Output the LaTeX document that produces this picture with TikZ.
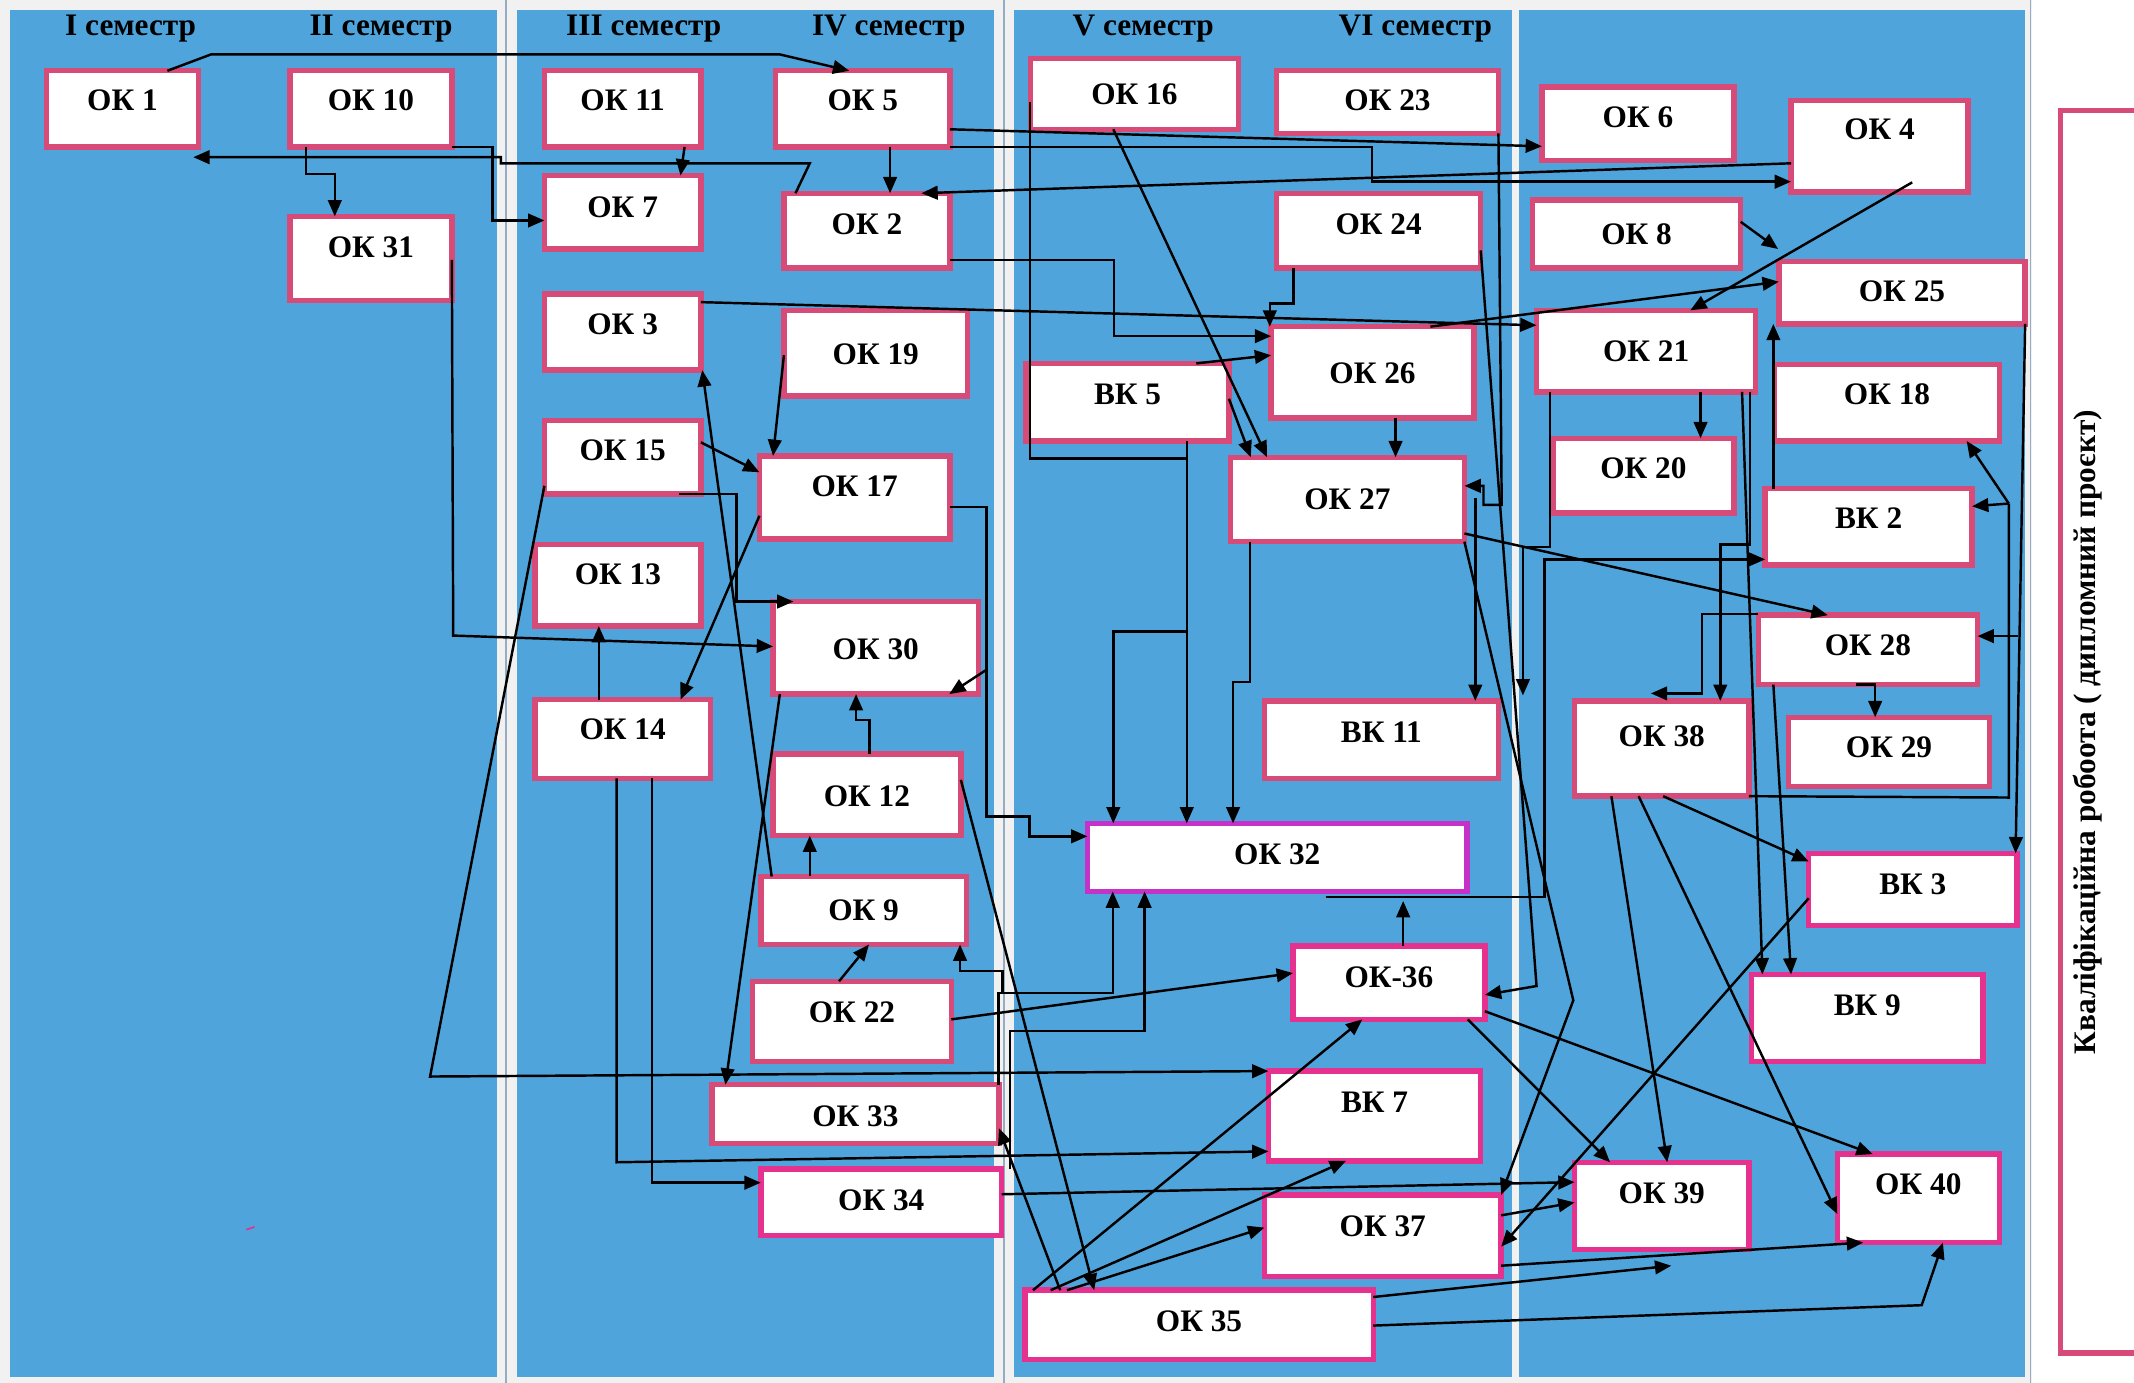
\documentclass[tikz,border=0pt]{standalone}
\usepackage{fontspec}
\setmainfont{Liberation Serif}
\usetikzlibrary{arrows.meta,calc}
\definecolor{pblue}{RGB}{79,165,219}
\definecolor{bggray}{RGB}{241,241,241}
\definecolor{sepline}{RGB}{150,172,196}
\definecolor{pinka}{RGB}{214,75,120}
\definecolor{pinkb}{RGB}{228,50,142}
\definecolor{purp}{RGB}{196,50,200}
\tikzset{
  boxa/.style={rectangle, draw=pinka, line width=4pt, fill=white, inner sep=0pt, outer sep=0pt},
  boxb/.style={boxa, draw=pinkb},
  boxc/.style={boxa, draw=purp},
  lbl/.style={font=\bfseries\fontsize{23}{26}\selectfont, inner sep=0pt},
  hdr/.style={font=\bfseries\fontsize{23}{26}\selectfont, inner sep=0pt},
  conn/.style={line width=1.8pt, line join=miter},
  arr/.style={conn, -{Triangle[length=12pt,width=10pt]}},
}
\newcommand\bx[8]{%
  \node[#1, minimum width={(#5-#3-4)*1pt}, minimum height={(#6-#4-4)*1pt}] (#2) at ({(#3+#5)/2},{(#4+#6)/2}) {};
  \node[lbl] (#2t) at ({(#3+#5)/2},#7) {#8};
}
\begin{document}
\begin{tikzpicture}[x=1pt,y=-1pt]
\useasboundingbox (0,0) rectangle (1568,1016);
\clip (0,0) rectangle (1568,1016);
% background and panels
\fill[white] (0,0) rectangle (1568,1016);
\fill[bggray] (0,0) rectangle (1493,1016);
\fill[pblue] (7,7) rectangle (365,1012);
\fill[pblue] (380,7) rectangle (730,1012);
\fill[pblue] (745,7) rectangle (1111,1012);
\fill[pblue] (1116,7) rectangle (1488,1012);
\draw[sepline, line width=1.2pt] (372,0) -- (372,1016);
\draw[sepline, line width=1.2pt] (737.5,0) -- (737.5,1016);
\draw[sepline, line width=1.2pt] (1492,0) -- (1492,1016);
% headers
\node[hdr] (h1) at (96,21) {I семестр};
\node[hdr] (h2) at (280,21) {II семестр};
\node[hdr] (h3) at (473,21) {III семестр};
\node[hdr] (h4) at (653,21) {IV семестр};
\node[hdr] (h5) at (840,21) {V семестр};
\node[hdr] (h6) at (1040,21) {VI семестр};
% boxes
\bx{boxa}{ok1}{32}{50}{148}{110}{74}{ОК 1}
\bx{boxa}{ok10}{211}{50}{334}{110}{74}{ОК 10}
\bx{boxa}{ok31}{211}{157}{334}{223}{182}{ОК 31}
\bx{boxa}{ok11}{398}{50}{517}{110}{74}{ОК 11}
\bx{boxa}{ok7}{398}{127}{517}{185}{152}{ОК 7}
\bx{boxa}{ok3}{398}{214}{517}{274}{238}{ОК 3}
\bx{boxa}{ok15}{398}{307}{517}{365}{331}{ОК 15}
\bx{boxa}{ok13}{391}{398}{517}{462}{422}{ОК 13}
\bx{boxa}{ok14}{391}{512}{524}{574}{536}{ОК 14}
\bx{boxa}{ok5}{568}{50}{700}{110}{74}{ОК 5}
\bx{boxa}{ok2}{574}{140}{700}{199}{165}{ОК 2}
\bx{boxa}{ok19}{574}{226}{713}{293}{260}{ОК 19}
\bx{boxa}{ok17}{556}{333}{700}{398}{357}{ОК 17}
\bx{boxa}{ok30}{566}{440}{721}{512}{477}{ОК 30}
\bx{boxa}{ok12}{566}{552}{708}{616}{585}{ОК 12}
\bx{boxa}{ok9}{557}{642}{712}{696}{669}{ОК 9}
\bx{boxa}{ok22}{551}{719}{701}{782}{744}{ОК 22}
\bx{boxa}{ok33}{521}{795}{736}{842}{820}{ОК 33}
\bx{boxb}{ok34}{557}{857}{738}{910}{882}{ОК 34}
\bx{boxa}{ok16}{755}{41}{912}{97}{69}{ОК 16}
\bx{boxa}{ok23}{936}{50}{1103}{100}{74}{ОК 23}
\bx{boxa}{ok24}{936}{140}{1090}{199}{165}{ОК 24}
\bx{boxa}{vk5}{752}{265}{905}{326}{290}{ВК 5}
\bx{boxa}{ok26}{932}{238}{1085}{309}{274}{ОК 26}
\bx{boxa}{ok27}{902}{334}{1078}{400}{367}{ОК 27}
\bx{boxa}{vk11}{927}{513}{1103}{574}{538}{ВК 11}
\bx{boxc}{ok32}{797}{603}{1080}{657}{628}{ОК 32}
\bx{boxb}{ok36}{948}{693}{1093}{751}{718}{ОК-36}
\bx{boxb}{vk7}{930}{785}{1090}{855}{810}{ВК 7}
\bx{boxb}{ok37}{927}{876}{1105}{940}{901}{ОК 37}
\bx{boxb}{ok35}{751}{946}{1011}{1001}{971}{ОК 35}
\bx{boxa}{ok6}{1131}{62}{1276}{120}{86}{ОК 6}
\bx{boxa}{ok4}{1314}{72}{1448}{143}{95}{ОК 4}
\bx{boxa}{ok8}{1124}{145}{1281}{199}{172}{ОК 8}
\bx{boxa}{ok25}{1305}{190}{1490}{240}{214}{ОК 25}
\bx{boxa}{ok21}{1127}{226}{1292}{290}{258}{ОК 21}
\bx{boxa}{ok18}{1302}{266}{1471}{326}{290}{ОК 18}
\bx{boxa}{ok20}{1139}{320}{1276}{379}{344}{ОК 20}
\bx{boxa}{vk2}{1295}{357}{1451}{417}{381}{ВК 2}
\bx{boxa}{ok28}{1290}{450}{1455}{505}{474}{ОК 28}
\bx{boxa}{ok38}{1155}{513}{1287}{587}{541}{ОК 38}
\bx{boxa}{ok29}{1312}{525}{1464}{580}{549}{ОК 29}
\bx{boxb}{vk3}{1327}{625}{1484}{682}{650}{ВК 3}
\bx{boxb}{vk9}{1285}{714}{1459}{782}{739}{ВК 9}
\bx{boxb}{ok39}{1155}{852}{1287}{920}{877}{ОК 39}
\bx{boxb}{ok40}{1348}{846}{1471}{915}{870}{ОК 40}
\node[boxa, minimum width=96pt, minimum height=913pt] (fin) at (1562,537.5) {};
\node[lbl, rotate=90] (fint) at (1534,538) {Кваліфікаційна робоота ( дипломний проєкт)};
% free-end coordinates
\coordinate (e1) at (142,115.5);
\coordinate (e2) at (1228,930);
\coordinate (e3) at (1213,509.5);
\coordinate (e4) at (1119,511);
\coordinate (e5) at (1031,662);
\coordinate (e6) at (1306.5,183);
\coordinate (j1) at (872,464);
\coordinate (j2) at (725,492);
\coordinate (j3) at (736.7,729.5);
\coordinate (j4) at (1476,370);
\coordinate (j5) at (1482.7,467.4);
% connectors
\draw[arr] (ok1.north -| 123,0) -- (155,40) -- (573,40) -- (ok5.north -| 624,0);
\draw[arr] (ok10.south -| 225,0) -- (225,128) -- (246,128) -- (ok31.north -| 246,0);
\draw[arr] (ok2.north -| 584.5,0) -- (595,120) -- (368,120) -- (368,115.5) -- (e1);
\draw[arr] (ok10.east |- 0,108) -- (362,108) -- (362,162) -- (ok7.west |- 0,162);
\draw[arr] (ok11.south -| 503,0) -- (ok7.north -| 500,0);
\draw[arr] (ok31.east |- 0,191) -- (333,467) -- (ok30.west |- 0,475);
\draw[arr] (ok3.east |- 0,222) -- (ok21.west |- 0,239);
\draw[arr] (ok26.north -| 1051,0) -- (ok25.west |- 0,207);
\draw[arr] (ok15.east |- 0,325) -- (ok17.west |- 0,347);
\draw[arr] (ok15.south -| 499,0) -- (541,363) -- (541,442) -- (ok30.north -| 583,0);
\draw[arr] (ok9.north -| 567,0) -- (ok3.south -| 516,0);
\draw[arr] (ok17.west |- 0,379) -- (ok14.north -| 500,0);
\draw[arr] (ok14.north -| 440,0) -- (ok13.south -| 440,0);
\draw[arr] (ok15.west |- 0,357) -- (316,791) -- (vk7.west |- 0,787);
\draw[arr] (ok14.south -| 453,0) -- (453,854) -- (vk7.west |- 0,846);
\draw[arr] (ok14.south -| 479,0) -- (479,869) -- (ok34.west |- 0,869);
\draw[arr] (ok19.west |- 0,261) -- (ok17.north -| 568,0);
\draw[arr] (ok5.south -| 654,0) -- (ok2.north -| 654,0);
\draw[arr] (ok4.west |- 0,120) -- (ok2.north -| 677,0);
\draw[arr] (ok5.east |- 0,95) -- (ok6.west |- 0,107.5);
\draw[arr] (ok5.east |- 0,108) -- (1008,108) -- (1008,133.5) -- (ok4.west |- 0,133.5);
\draw[arr] (ok2.east |- 0,191) -- (818.6,191) -- (818.6,247) -- (ok26.west |- 0,247);
\draw[arr] (ok24.south -| 950.5,0) -- (950.5,223) -- (933,223) -- (ok26.north -| 933,0);
\draw[arr] (vk5.north -| 879,0) -- (ok26.west |- 0,261);
\draw[arr] (ok16.south -| 818,0) -- (ok27.north -| 931,0);
\draw[arr] (vk5.east |- 0,293) -- (ok27.north -| 919,0);
\draw[arr] (ok26.south -| 1025.4,0) -- (ok27.north -| 1025.4,0);
\draw[conn] (ok16.west |- 0,75) -- (757,337) -- (872,337);
\draw[arr] (vk5.south -| 872,0) -- (ok32.north -| 872,0);
\draw[arr] (j1) -- (818,464) -- (ok32.north -| 818,0);
\draw[arr] (ok27.south -| 918.5,0) -- (918.5,501) -- (906,501) -- (ok32.north -| 906,0);
\draw[arr] (ok17.east |- 0,372.5) -- (725,372.5) -- (725,600) -- (756.5,600) -- (756.5,614.5) -- (ok32.west |- 0,614.5);
\draw[arr] (j2) -- (ok30.south -| 697.5,0);
\draw[arr] (ok12.north -| 639,0) -- (639,529) -- (629,529) -- (ok30.south -| 629,0);
\draw[arr] (ok9.north -| 595,0) -- (ok12.south -| 595,0);
\draw[arr] (ok22.north -| 616.5,0) -- (ok9.south -| 638.5,0);
\draw[arr] (ok12.east |- 0,573) -- (ok35.north -| 804,0);
\draw[arr] (ok30.south -| 573,0) -- (ok33.north -| 533,0);
\draw[arr] (ok35.north -| 779,0) -- (ok33.east |- 0,829);
\draw[arr] (ok22.east |- 0,749) -- (ok36.west |- 0,715);
\draw[arr] (ok33.north -| 733.5,0) -- (733.5,729.5) -- (817.6,729.5) -- (ok32.south -| 817.6,0);
\draw[arr] (j3) -- (736.7,713.3) -- (705.4,713.3) -- (ok9.south -| 705.4,0);
\draw[arr] (ok34.north -| 742,0) -- (742,757.5) -- (841,757.5) -- (ok32.south -| 841,0);
\draw[arr] (ok35.north -| 759,0) -- (ok36.south -| 1001,0);
\draw[arr] (ok35.north -| 772,0) -- (vk7.south -| 989,0);
\draw[arr] (ok35.north -| 784,0) -- (ok37.west |- 0,902);
\draw[arr] (ok34.east |- 0,877.5) -- (ok39.west |- 0,868.6);
\draw[arr] (ok27.south east) -- (1156,735) -- (ok37.north east);
\draw[arr] (ok27.east |- 0,392) -- (ok28.north -| 1343,0);
\draw[arr] (ok38.south -| 1184,0) -- (ok39.north -| 1225,0);
\draw[arr] (ok38.south -| 1204,0) -- (ok40.west |- 0,892);
\draw[arr] (ok38.south -| 1222,0) -- (vk3.west |- 0,633);
\draw[arr] (vk3.west |- 0,660) -- (ok37.east |- 0,916);
\draw[arr] (ok36.south -| 1078.5,0) -- (ok39.north -| 1183,0);
\draw[arr] (ok36.east |- 0,743) -- (ok40.north -| 1376,0);
\draw[arr] (ok37.east |- 0,893) -- (ok39.west |- 0,883.5);
\draw[arr] (ok37.east |- 0,930) -- (ok40.south -| 1369,0);
\draw[arr] (ok35.east |- 0,953) -- (e2);
\draw[arr] (ok35.east |- 0,974) -- (1412,959) -- (ok40.south -| 1427.6,0);
\draw[conn] (ok38.south east) -- (1476,586) -- (j4);
\draw[arr] (j4) -- (vk2.east |- 0,372);
\draw[arr] (j4) -- (ok18.south -| 1445,0);
\draw[arr] (ok25.south east) -- (vk3.north -| 1481,0);
\draw[arr] (j5) -- (ok28.east |- 0,467.4);
\draw[arr] (ok28.west |- 0,451) -- (1250.5,451) -- (1250.5,509.5) -- (e3);
\draw[arr] (ok28.south -| 1364,0) -| (ok29.north -| 1377.8,0);
\draw[arr] (ok28.south -| 1303,0) -- (vk9.north -| 1316,0);
\draw[arr] (ok21.south -| 1280,0) -- (vk9.north -| 1295,0);
\draw[arr] (ok21.south -| 1286,0) -- (1286,400) -- (1264,400) -- (ok38.north -| 1264,0);
\draw[arr] (ok21.south -| 1139,0) -- (1139,402) -- (1119,402) -- (e4);
\draw[arr] (ok21.south -| 1249.5,0) -- (ok20.north -| 1249.5,0);
\draw[arr] (vk2.north -| 1303,0) -- (ok25.south -| 1303,0);
\draw[arr] ($(ok32.south -| 974,0)+(0,4)$) -- (1135,659) -- (1135,411) -- (vk2.west |- 0,411);
\draw[arr] (ok36.north -| 1031,0) -- (e5);
\draw[arr] ($(ok4.south -| 1405,0)+(0,-7)$) -- (ok21.north -| 1242,0);
\draw[arr] (ok8.east |- 0,163) -- (e6);
\draw[arr] (ok23.south east) -- (1103.4,371) -- (1090,371) -- (1090,357) -- (ok27.east |- 0,357);
\draw[arr] (ok24.east |- 0,184) -- (1129,724.5) -- (ok36.east |- 0,731);
\draw[arr] ($(ok27.east |- 0,366)+(8,0)$) -- (vk11.north -| 1084,0);
% stray mark
\draw[pinkb, line width=1.2pt] (181,903.5) -- (187,901.5);
\end{tikzpicture}
\end{document}
